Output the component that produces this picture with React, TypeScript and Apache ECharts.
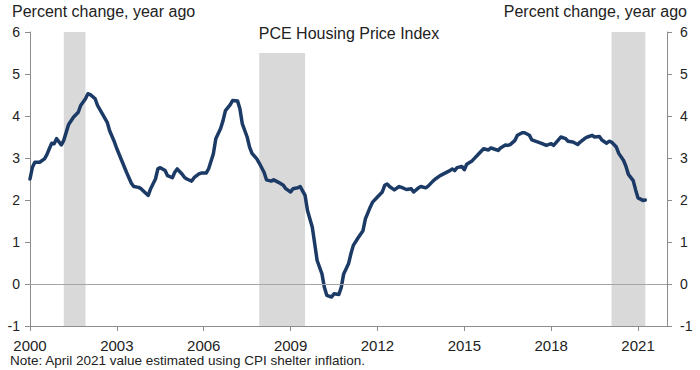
import React, { useEffect, useRef } from "react";
import * as echarts from "echarts";

const dates: string[] = [
  "2000-01","2000-02","2000-03","2000-05","2000-07","2000-08","2000-09","2000-10","2000-11","2000-12",
  "2001-02","2001-03","2001-04","2001-05","2001-07","2001-09","2001-10","2001-12",
  "2002-01","2002-02","2002-04","2002-05","2002-07","2002-09","2002-10","2002-12",
  "2003-01","2003-03","2003-05","2003-07","2003-08","2003-10","2003-11",
  "2004-01","2004-02","2004-03","2004-05","2004-06","2004-07","2004-09","2004-10","2004-12",
  "2005-01","2005-02","2005-04","2005-05","2005-06","2005-08","2005-09","2005-11","2005-12",
  "2006-02","2006-03","2006-05","2006-06","2006-08","2006-09","2006-10","2006-12",
  "2007-01","2007-03","2007-04","2007-05","2007-07","2007-08","2007-09","2007-11","2007-12",
  "2008-02","2008-03","2008-05","2008-06","2008-08","2008-10","2008-11",
  "2009-01","2009-02","2009-04","2009-05","2009-07","2009-08","2009-10","2009-11","2009-12",
  "2010-02","2010-03","2010-04","2010-06","2010-07","2010-09","2010-10","2010-11",
  "2011-01","2011-02","2011-03","2011-05","2011-07","2011-08","2011-10","2011-11",
  "2012-01","2012-03","2012-04","2012-05","2012-06","2012-08","2012-10","2012-11",
  "2013-01","2013-03","2013-04","2013-06","2013-07","2013-09","2013-10","2013-12",
  "2014-01","2014-03","2014-05","2014-07","2014-08","2014-09","2014-10","2014-12",
  "2015-01","2015-02","2015-04","2015-05","2015-07","2015-08","2015-09","2015-11","2015-12",
  "2016-01","2016-03","2016-04","2016-06","2016-07","2016-08","2016-10","2016-11",
  "2017-01","2017-02","2017-04","2017-05","2017-07","2017-09","2017-11",
  "2018-01","2018-02","2018-04","2018-05","2018-07","2018-08","2018-10","2018-12",
  "2019-01","2019-03","2019-04","2019-06","2019-07","2019-09","2019-10","2019-12",
  "2020-01","2020-02","2020-04","2020-05","2020-07","2020-08","2020-09","2020-11","2020-12",
  "2021-01","2021-03","2021-04",
];

const values: number[] = [
  2.50,2.78,2.90,2.90,2.98,3.08,3.22,3.35,3.34,3.46,
  3.31,3.42,3.61,3.80,3.97,4.09,4.25,4.41,
  4.53,4.51,4.41,4.25,4.05,3.85,3.65,3.38,
  3.22,2.94,2.66,2.40,2.32,2.30,2.27,
  2.16,2.11,2.27,2.50,2.74,2.77,2.70,2.58,2.53,
  2.66,2.74,2.62,2.54,2.50,2.45,2.53,2.62,2.64,
  2.64,2.74,3.10,3.46,3.70,3.89,4.13,4.27,
  4.37,4.36,4.17,3.81,3.50,3.26,3.11,2.98,2.88,
  2.66,2.48,2.45,2.48,2.42,2.35,2.27,
  2.19,2.27,2.29,2.32,2.11,1.75,1.35,0.96,0.56,
  0.24,-0.08,-0.27,-0.31,-0.23,-0.25,-0.08,0.24,
  0.48,0.72,0.92,1.10,1.27,1.55,1.83,1.95,
  2.07,2.19,2.35,2.38,2.32,2.24,2.32,2.30,
  2.25,2.27,2.19,2.29,2.32,2.29,2.33,2.45,
  2.50,2.58,2.64,2.70,2.74,2.70,2.77,2.80,
  2.72,2.85,2.92,2.98,3.10,3.16,3.22,3.19,3.24,
  3.22,3.18,3.24,3.31,3.30,3.32,3.42,3.54,
  3.60,3.60,3.54,3.43,3.39,3.35,3.30,
  3.34,3.30,3.43,3.50,3.46,3.40,3.38,3.32,
  3.38,3.47,3.50,3.54,3.50,3.51,3.43,3.35,
  3.40,3.38,3.26,3.11,2.94,2.80,2.61,2.46,2.24,
  2.05,1.99,2.00,
];

const recessionStarts: string[] = ["2001-03", "2007-12", "2020-02"];
const recessionEnds: string[] = ["2001-12", "2009-07", "2021-04"];
const recessionTops: number[] = [6, 5.5, 6];

const yTicks = { min: -1, max: 6, interval: 1 };
const xTicks = { min: 2000, max: 2022, interval: 3 };

const axisTitle = "Percent change, year ago";
const chartTitle = "PCE Housing Price Index";
const note = "Note: April 2021 value estimated using CPI shelter inflation.";

const toYear = (d: string): number => {
  const [y, m] = d.split("-").map(Number);
  return y + (m - 1) / 12;
};

const FONT = "Liberation Sans, Arial, sans-serif";

export default function App() {
  const ref = useRef<HTMLDivElement>(null);
  useEffect(() => {
    document.body.style.margin = "0";
    if (!ref.current) return;
    const chart = echarts.init(ref.current, undefined, { renderer: "svg" });
    const axisLineColor = "#8c8c8c";
    const yAxisCommon = {
      type: "value",
      min: yTicks.min,
      max: yTicks.max,
      interval: yTicks.interval,
      splitLine: { show: false },
      axisLine: { show: true, lineStyle: { color: axisLineColor, width: 1 } },
      axisTick: { show: true, inside: false, length: 5, lineStyle: { color: axisLineColor } },
      axisLabel: { color: "#222", fontSize: 14, fontFamily: FONT, margin: 10 },
    };
    chart.setOption({
      animation: false,
      grid: { left: 30, right: 33, top: 32, bottom: 44, containLabel: false },
      xAxis: {
        type: "value",
        min: xTicks.min,
        max: xTicks.max,
        interval: xTicks.interval,
        splitLine: { show: false },
        axisLine: { show: true, onZero: false, lineStyle: { color: axisLineColor } },
        axisTick: { show: true, length: 5, lineStyle: { color: axisLineColor } },
        axisLabel: {
          color: "#222",
          fontSize: 15,
          fontFamily: FONT,
          margin: 12,
          showMaxLabel: false,
          formatter: (v: number) => String(v),
        },
      },
      yAxis: [
        { ...yAxisCommon, position: "left" },
        { ...yAxisCommon, position: "right", axisLabel: { ...yAxisCommon.axisLabel, margin: 13 } },
      ],
      graphic: [
        {
          type: "text",
          left: 12,
          top: 3,
          style: { text: axisTitle, font: `16px ${FONT}`, fill: "#222" },
        },
        {
          type: "text",
          right: 13,
          top: 3,
          style: { text: axisTitle, font: `16px ${FONT}`, fill: "#222" },
        },
        {
          type: "text",
          x: 349,
          y: 33,
          style: {
            text: chartTitle,
            font: `16px ${FONT}`,
            fill: "#222",
            align: "center",
            verticalAlign: "middle",
          },
        },
        {
          type: "text",
          left: 10,
          top: 353,
          style: { text: note, font: `13.5px ${FONT}`, fill: "#222" },
        },
      ],
      series: [
        {
          type: "line",
          data: [],
          z: 1,
          silent: true,
          markArea: {
            silent: true,
            itemStyle: { color: "#d9d9d9" },
            data: recessionStarts.map((s, i) => [
              { xAxis: toYear(s), yAxis: -1 },
              { xAxis: toYear(recessionEnds[i]), yAxis: recessionTops[i] },
            ]),
          },
          markLine: {
            silent: true,
            symbol: ["none", "none"],
            label: { show: false },
            lineStyle: { color: "#a6a6a6", width: 1, type: "solid" },
            data: [{ yAxis: 0 }],
          },
        },
        {
          type: "line",
          z: 3,
          showSymbol: false,
          symbol: "none",
          data: dates.map((d, i) => [toYear(d), values[i]]),
          lineStyle: { color: "#1b3a66", width: 3.5, join: "round", cap: "round" },
        },
      ],
    });
    return () => chart.dispose();
  }, []);
  return <div ref={ref} style={{ width: 700, height: 370 }} />;
}
